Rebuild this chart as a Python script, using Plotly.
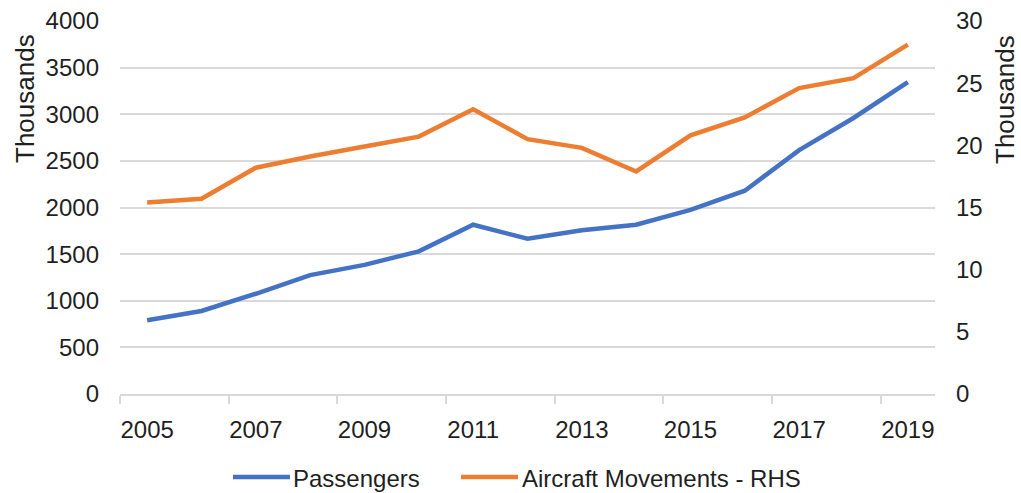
import plotly.graph_objects as go

years = list(range(2005, 2020))
passengers = [790, 890, 1075, 1275, 1385, 1530, 1815, 1665, 1755, 1815, 1975, 2180, 2615, 2960, 3345]
aircraft = [15.4, 15.7, 18.2, 19.1, 19.9, 20.7, 22.9, 20.5, 19.8, 17.9, 20.8, 22.25, 24.6, 25.4, 28.1]
x_labels = [str(y) for y in range(2005, 2020, 2)]
left_ticks = list(range(0, 4001, 500))
right_ticks = list(range(0, 31, 5))
series_names = ["Passengers", "Aircraft Movements - RHS"]
series_colors = ["#4472C4", "#ED7D31"]

font = "Liberation Sans, Arial, sans-serif"
fs = 24
fs_title = 26
txt = "#1f1f1f"

L, R, T, B = 120, 86, 21, 99
W, H = 1021, 493
pw, ph = W - L - R, H - T - B

def px(x):
    return (x - L) / pw

def py(y):
    return (H - B - y) / ph

fig = go.Figure()
fig.add_trace(go.Scatter(x=years, y=passengers, name=series_names[0], mode="lines",
                         line=dict(color=series_colors[0], width=4.5), yaxis="y"))
fig.add_trace(go.Scatter(x=years, y=aircraft, name=series_names[1], mode="lines",
                         line=dict(color=series_colors[1], width=4.5), yaxis="y2"))

# legend drawn as line swatches + text (Excel-style long swatches)
legend_items = [(233, 290, 291), (461, 518, 520)]
shapes = []
annotations = []
for (x0, x1, xt), name, col in zip(legend_items, series_names, series_colors):
    shapes.append(dict(type="line", xref="paper", yref="paper", x0=px(x0), x1=px(x1),
                       y0=py(477), y1=py(477), line=dict(color=col, width=4.5)))
    annotations.append(dict(text=name, xref="paper", yref="paper", x=px(xt), y=py(478),
                            xanchor="left", yanchor="middle", showarrow=False,
                            font=dict(size=fs, color=txt)))

annotations += [
    dict(text="Thousands", textangle=-90, xref="paper", yref="paper",
         x=px(25), y=py(99), xanchor="center", yanchor="middle", showarrow=False,
         font=dict(size=fs_title, color=txt)),
    dict(text="Thousands", textangle=-90, xref="paper", yref="paper",
         x=px(1005), y=py(100), xanchor="center", yanchor="middle", showarrow=False,
         font=dict(size=fs_title, color=txt)),
]

fig.update_layout(
    width=W, height=H,
    margin=dict(l=L, r=R, t=T, b=B, autoexpand=False),
    paper_bgcolor="white", plot_bgcolor="white",
    font=dict(family=font, size=fs, color=txt),
    showlegend=False,
    xaxis=dict(range=[2004.5, 2019.5], tickvals=[int(v) for v in x_labels], ticktext=x_labels,
               ticks="", showgrid=False, showline=True, linecolor="#D9D9D9", linewidth=1.5,
               zeroline=False, ticklabelstandoff=13, automargin=False,
               minor=dict(tickvals=[y - 0.5 for y in range(2005, 2020, 2)], ticks="outside",
                          ticklen=8, tickcolor="#D9D9D9", tickwidth=1.5, showgrid=False)),
    yaxis=dict(range=[0, 4000], tickvals=left_ticks, showgrid=True, gridcolor="#D9D9D9",
               gridwidth=1.5, zeroline=False, ticks="", ticklabelstandoff=20, automargin=False),
    yaxis2=dict(range=[0, 30], tickvals=right_ticks, overlaying="y", side="right",
                showgrid=False, zeroline=False, ticks="", ticklabelstandoff=20, automargin=False),
    shapes=shapes,
    annotations=annotations,
)

fig.write_html("out.html", config={"displayModeBar": False},
               post_script="document.body.style.margin='0';document.body.style.padding='0';")
